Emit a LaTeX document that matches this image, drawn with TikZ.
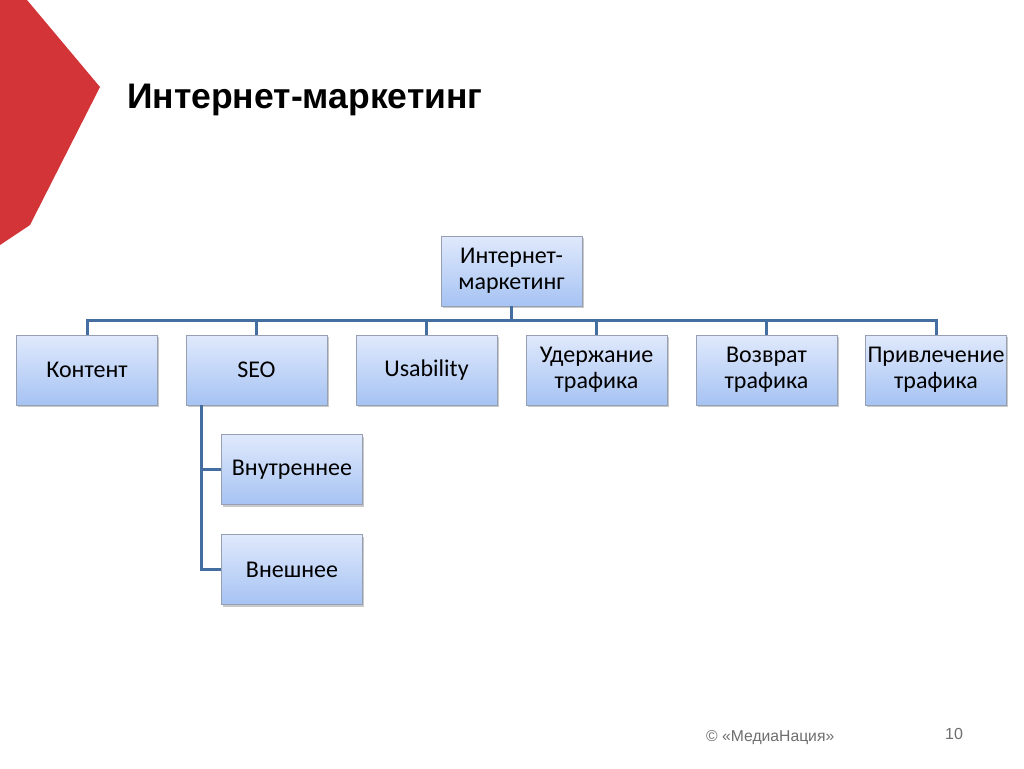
\documentclass[tikz,border=0pt]{standalone}
\usepackage{fontspec}
\setmainfont{Carlito}
\newfontfamily\arialfont{Liberation Sans}
\usetikzlibrary{shadows}
\definecolor{redshape}{RGB}{210,52,55}
\definecolor{linkblue}{RGB}{68,110,160}
\definecolor{boxtop}{RGB}{224,233,252}
\definecolor{boxbot}{RGB}{166,195,243}
\definecolor{boxborder}{RGB}{150,160,178}
\definecolor{footgray}{RGB}{110,110,110}
\tikzset{
  orgbox/.style={rectangle, draw=boxborder, line width=0.8pt, top color=boxtop, bottom color=boxbot,
    minimum width=141pt, minimum height=70pt, inner sep=0pt, align=center,
    font=\fontsize{24}{26}\selectfont,
    drop shadow={shadow xshift=1.5pt, shadow yshift=-2pt, opacity=0.35, fill=black!60}},
  link/.style={draw=linkblue, line width=3pt}
}
\begin{document}
\begin{tikzpicture}[x=1pt,y=1pt]
\useasboundingbox (0,0) rectangle (1024,-768);
\fill[white] (0,0) rectangle (1024,-768);
% red decorative shape
\fill[redshape] (0,0) -- (27,0) -- (100,-87) -- (30,-225) -- (0,-245) -- cycle;
% title
\node[anchor=base west, inner sep=0pt, font=\arialfont\bfseries\fontsize{35.5}{40}\selectfont] (title) at (127,-108) {Интернет-маркетинг};
% nodes
\node[orgbox] (root) at (511.5,-271) {Интернет-\\маркетинг};
\node[orgbox] (c1) at (87,-370) {Контент};
\node[orgbox] (c2) at (256.5,-370) {SEO};
\node[orgbox] (c3) at (426.5,-370) {Usability};
\node[orgbox] (c4) at (596.5,-370) {Удержание\\трафика};
\node[orgbox] (c5) at (766.5,-370) {Возврат\\трафика};
\node[orgbox] (c6) at (936,-370) {Привлечение\\трафика};
\node[orgbox] (s1) at (292,-469.5) {Внутреннее};
\node[orgbox] (s2) at (292,-569.5) {Внешнее};
% connectors
\coordinate (bus) at (0,-320);
\draw[link] (root.south) -- (root.south |- bus);
\draw[link, line cap=rect] (c1.north |- bus) -- (c6.north |- bus);
\foreach \c in {c1,c2,c3,c4,c5,c6} {\draw[link] (\c.north |- bus) -- (\c.north);}
\coordinate (seox) at (201.5,0);
\draw[link] (seox |- c2.south) -- (seox |- s2.west) -- (s2.west);
\draw[link] (seox |- s1.west) -- (s1.west);
% footer
\node[anchor=base west, inner sep=0pt, text=footgray, font=\arialfont\fontsize{15.7}{18}\selectfont] (foot) at (706,-741) {© «МедиаНация»};
\node[anchor=base west, inner sep=0pt, text=footgray, font=\arialfont\fontsize{16}{18}\selectfont] (page) at (945,-739) {10};
\end{tikzpicture}
\end{document}
